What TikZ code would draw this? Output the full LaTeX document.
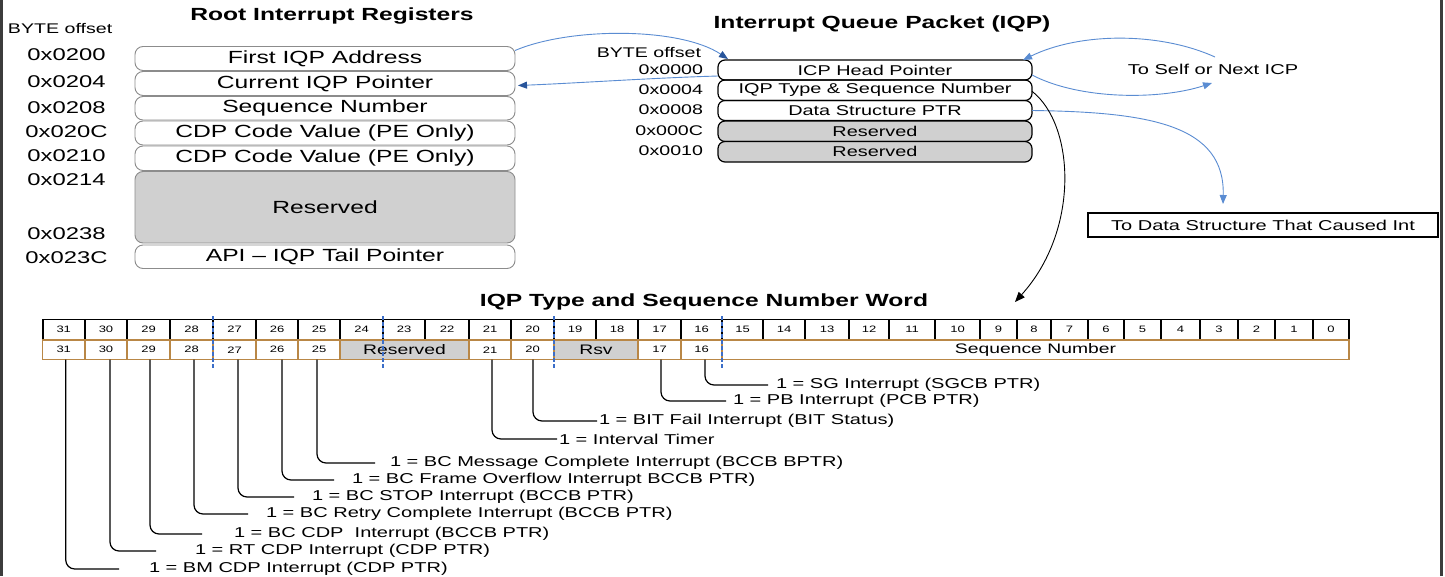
\documentclass[tikz,border=0pt]{standalone}
\usepackage{fontspec}
\setmainfont{Liberation Sans}
\usetikzlibrary{arrows.meta}
\newcommand\hs[1]{\scalebox{1.4}[1]{#1}}
\definecolor{rgray}{RGB}{140,140,140}
\definecolor{resfill}{RGB}{208,208,208}
\definecolor{brn}{RGB}{185,135,70}
\definecolor{lblue}{RGB}{90,140,210}
\definecolor{dblue}{RGB}{40,85,155}
\definecolor{dashblue}{RGB}{60,110,200}
\definecolor{framec}{RGB}{60,60,60}
\begin{document}
\begin{tikzpicture}[x=1pt,y=-1pt,
  every node/.style={inner sep=0pt, outer sep=0pt},
  ttl/.style={font=\fontsize{17.6}{20}\selectfont\bfseries},
  byteoff/.style={font=\fontsize{14}{16}\selectfont},
  roff/.style={font=\fontsize{17}{19}\selectfont},
  rbox/.style={draw=rgray, line width=0.9pt, rounded corners=8pt, minimum width=380pt, anchor=north west, font=\fontsize{17.6}{19}\selectfont},
  qoff/.style={font=\fontsize{14}{16}\selectfont, anchor=east},
  qbox/.style={draw=black, line width=1.2pt, rounded corners=7pt, minimum width=314pt, anchor=north west, font=\fontsize{14.2}{16}\selectfont},
  resv/.style={fill=resfill},
  bitc/.style={draw=black, line width=1pt, minimum height=21pt, font=\fontsize{9.3}{10}\selectfont},
  bitd/.style={draw=brn, line width=1.2pt, minimum height=19.5pt, font=\fontsize{9.3}{10}\selectfont},
  bitw/.style={bitd, fill=resfill, font=\fontsize{13.8}{15}\selectfont},
  sepline/.style={line width=2pt},
  bdash/.style={draw=dashblue, line width=1.3pt, dash pattern=on 3.5pt off 2.5pt},
  conn/.style={draw=black, line width=1.2pt, rounded corners=9pt},
  lbl/.style={font=\fontsize{14.3}{16}\selectfont, anchor=west},
  barrow/.style={draw=lblue, line width=0.9pt, -{Triangle[length=9pt,width=7pt]}},
  barrowd/.style={draw=lblue, line width=0.9pt, -{Triangle[length=9pt,width=7pt,color=dblue]}},
  karrow/.style={draw=black, line width=0.9pt, -{Triangle[length=10pt,width=8pt]}},
  dsbox/.style={draw=black, line width=1.2pt, minimum width=350pt, minimum height=24pt, anchor=north west, font=\fontsize{14.3}{16}\selectfont}
]
\useasboundingbox (0,0) rectangle (1445,576);
\fill[white] (0,0) rectangle (1445,576);
\draw[framec, line width=3pt] (1.5,0) -- (1.5,576);
\draw[framec, line width=3pt] (1441.5,0) -- (1441.5,576);

% ---------- Root Interrupt Registers ----------
\node[ttl] (rtitle) at (332,16) {\hs{Root Interrupt Registers}};
\node[byteoff, anchor=west] (rbyte) at (8,29) {\hs{BYTE offset}};
\node[roff] (o1) at (66.5,55) {\hs{0x0200}};
\node[roff] (o2) at (66.5,81.5) {\hs{0x0204}};
\node[roff] (o3) at (66.5,107.5) {\hs{0x0208}};
\node[roff] (o4) at (66.5,132) {\hs{0x020C}};
\node[roff] (o5) at (66.5,155.5) {\hs{0x0210}};
\node[roff] (o6) at (66.5,180) {\hs{0x0214}};
\node[roff] (o7) at (66.5,234) {\hs{0x0238}};
\node[roff] (o8) at (66.5,257.5) {\hs{0x023C}};

\node[rbox, minimum height=24pt] (r1) at (135,46.5) {\hs{First IQP Address}};
\node[rbox, minimum height=24pt] (r2) at (135,71.5) {\hs{Current IQP Pointer}};
\node[rbox, minimum height=23.5pt] (r3) at (135,96.5) {\hs{Sequence Number}};
\node[rbox, minimum height=24pt] (r4) at (135,121) {\hs{CDP Code Value (PE Only)}};
\node[rbox, minimum height=24.5pt] (r5) at (135,146) {\hs{CDP Code Value (PE Only)}};
\node[rbox, resv, minimum height=71.5pt] (r6) at (135,171.5) {\hs{Reserved}};
\node[rbox, minimum height=23.5pt] (r7) at (135,245) {\hs{API -- IQP Tail Pointer}};

% ---------- Interrupt Queue Packet ----------
\node[ttl] (qtitle) at (882,24) {\hs{Interrupt Queue Packet (IQP)}};
\node[byteoff, anchor=east] (qbyte) at (701,52) {\hs{BYTE offset}};
\node[qoff] (p1) at (703,70) {\hs{0x0000}};
\node[qoff] (p2) at (703,90) {\hs{0x0004}};
\node[qoff] (p3) at (703,110) {\hs{0x0008}};
\node[qoff] (p4) at (703,130.5) {\hs{0x000C}};
\node[qoff] (p5) at (703,150.5) {\hs{0x0010}};

\node[qbox, minimum height=20pt] (q1) at (718,60) {\hs{ICP Head Pointer}};
\node[qbox, minimum height=20.5pt] (q2) at (718,80) {\hs{IQP Type \& Sequence Number}};
\node[qbox, minimum height=20pt] (q3) at (718,100.5) {\hs{Data Structure PTR}};
\node[qbox, resv, minimum height=20.5pt] (q4) at (718,121) {\hs{Reserved}};
\node[qbox, resv, minimum height=20.5pt] (q5) at (718,141.5) {\hs{Reserved}};

\node[font=\fontsize{14.3}{16}\selectfont] (selft) at (1213,69) {\hs{To Self or Next ICP}};
\node[dsbox] (ds) at (1088,213) {\hs{To Data Structure That Caused Int}};

\coordinate (selfa) at (1212,83);
\coordinate (selfb) at (1215,57);
\coordinate (dsin) at (1223,204);
\coordinate (wordin) at (1015,302);

\draw[barrowd] ([yshift=-4pt]r1.north east) .. controls (570,27) and (680,27) .. ([xshift=10pt,yshift=1pt]q1.north west);
\draw[barrowd] ([yshift=-6pt]q1.west) .. controls (650,78) and (580,83) .. ([xshift=3pt,yshift=-2pt]r2.east);
\draw[barrow] ([yshift=-5pt]q1.east) .. controls (1080,100) and (1160,100) .. (selfa);
\draw[barrow] (selfb) .. controls (1160,32) and (1080,32) .. ([xshift=-9pt]q1.north east);
\draw[barrow] (q3.east) .. controls (1150,112) and (1225,125) .. (dsin);
\draw[karrow] ([yshift=-1pt]q2.east) .. controls (1075,125) and (1080,230) .. (wordin);

% ---------- IQP Type and Sequence Number Word ----------
\node[ttl] (wtitle) at (704,302) {\hs{IQP Type and Sequence Number Word}};

\foreach \l/\r/\t in {42.5/85/31, 85/127/30, 127/170/29, 170/213/28, 213/256/27, 256/298/26, 298/340/25, 340/383/24, 383/425/23, 425/469/22, 469/511/21, 511/554/20, 554/596/19, 596/638/18, 638/681/17, 681/722/16, 722/763/15, 763/805/14, 805/849/13, 849/889/12, 889/935/11, 935/980/10, 980/1017/9, 1017/1051/8, 1051/1088/7, 1088/1124/6, 1124/1161/5, 1161/1200/4, 1200/1238/3, 1238/1275/2, 1275/1313/1, 1313/1349/0}
  \node[bitc, minimum width={(\r-\l)*1pt}] (b\t) at ({(\l+\r)/2},329.5) {\hs{\t}};
\foreach \t in {31,30,...,1}
  \draw[sepline] (b\t.north east) -- (b\t.south east);
\draw[sepline] (b31.north west) -- (b31.south west);
\draw[sepline] (b0.north east) -- (b0.south east);

\foreach \l/\r/\t in {42.5/85/31, 85/127/30, 127/170/29, 170/213/28, 213/256/27, 256/298/26, 298/340/25, 469/511/21, 511/554/20, 638/681/17, 681/722/16}
  \node[bitd, minimum width={(\r-\l)*1pt}] (c\t) at ({(\l+\r)/2},349.75) {\hs{\t}};
\node[bitw, minimum width=129pt] (res) at (404.5,349.75) {\hs{Reserved}};
\node[bitw, minimum width=84pt] (rsv) at (596,349.75) {\hs{Rsv}};
\node[bitd, minimum width=627pt, font=\fontsize{13.8}{15}\selectfont] (seq) at (1035.5,349.75) {\hs{Sequence Number}};

\draw[bdash] ([yshift=3pt]b28.north east) -- ++(0,53);
\draw[bdash] ([yshift=3pt]b24.north east) -- ++(0,53);
\draw[bdash] ([yshift=3pt]b20.north east) -- ++(0,53);
\draw[bdash] ([yshift=3pt]b16.north east) -- ++(0,53);

% labels
\node[lbl] (l16) at (776,385) {\hs{1 = SG Interrupt (SGCB PTR)}};
\node[lbl] (l17) at (733,401) {\hs{1 = PB Interrupt (PCB PTR)}};
\node[lbl] (l20) at (599,421) {\hs{1 = BIT Fail Interrupt (BIT Status)}};
\node[lbl] (l21) at (559,439) {\hs{1 = Interval Timer}};
\node[lbl] (l25) at (390,463) {\hs{1 = BC Message Complete Interrupt (BCCB BPTR)}};
\node[lbl] (l26) at (352,480) {\hs{1 = BC Frame Overflow Interrupt BCCB PTR)}};
\node[lbl] (l27) at (312,497) {\hs{1 = BC STOP Interrupt (BCCB PTR)}};
\node[lbl] (l28) at (266,514) {\hs{1 = BC Retry Complete Interrupt (BCCB PTR)}};
\node[lbl] (l29) at (234,534) {\hs{1 = BC CDP~ Interrupt (BCCB PTR)}};
\node[lbl] (l30) at (195,551) {\hs{1 = RT CDP Interrupt (CDP PTR)}};
\node[lbl] (l31) at (149,569) {\hs{1 = BM CDP Interrupt (CDP PTR)}};

\draw[conn] ([xshift=3.5pt]c16.south) |- ([xshift=-8pt]l16.west);
\draw[conn] ([xshift=1.5pt]c17.south) |- ([xshift=-7pt]l17.west);
\draw[conn] ([xshift=0.5pt]c20.south) |- ([xshift=-2pt]l20.west);
\draw[conn] ([xshift=2pt]c21.south) |- ([xshift=-2pt]l21.west);
\draw[conn] ([xshift=-2pt]c25.south) |- ([xshift=-15pt]l25.west);
\draw[conn] ([xshift=5pt]c26.south) |- ([xshift=-18pt]l26.west);
\draw[conn] ([xshift=3.5pt]c27.south) |- ([xshift=-18pt]l27.west);
\draw[conn] ([xshift=2.5pt]c28.south) |- ([xshift=-18pt]l28.west);
\draw[conn] ([xshift=1.5pt]c29.south) |- ([xshift=-32pt]l29.west);
\draw[conn] ([xshift=4pt]c30.south) |- ([xshift=-39pt]l30.west);
\draw[conn] ([xshift=2pt]c31.south) |- ([xshift=-30pt]l31.west);
\end{tikzpicture}
\end{document}
